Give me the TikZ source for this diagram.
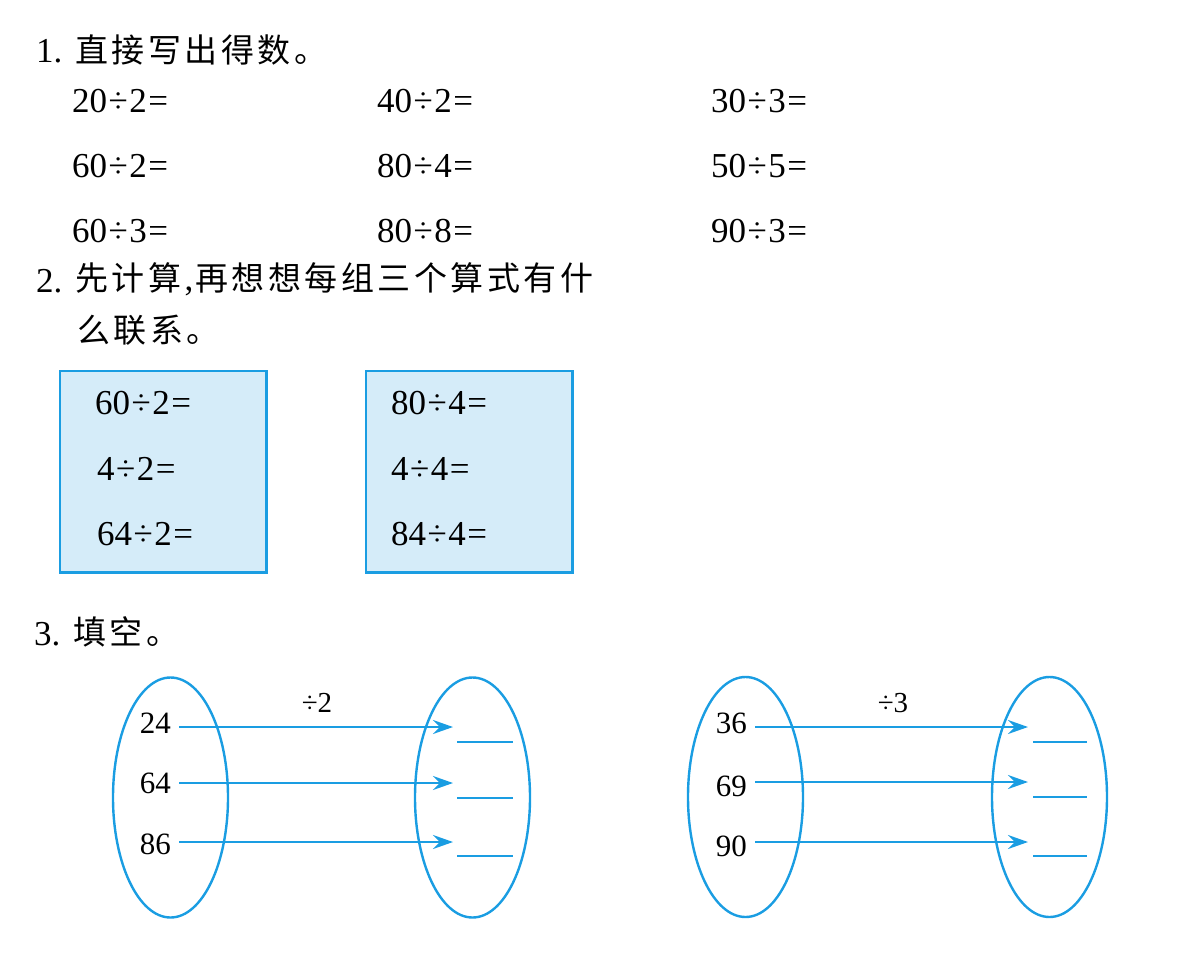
\documentclass[tikz,border=0pt]{standalone}
\usepackage{fontspec}
\setmainfont{Liberation Serif}
\newfontfamily\cjk{Noto Sans CJK SC}
\usetikzlibrary{arrows.meta,shapes.geometric}
\definecolor{lineblue}{HTML}{1A9DE2}
\definecolor{boxfill}{HTML}{D5ECF9}
\makeatletter
\def\cjksp#1{\cjksp@a#1\relax}
\def\cjksp@a#1{\ifx\relax#1\else#1\kern3.5pt\expandafter\cjksp@a\fi}
\makeatother
\newcommand\dv[2]{#1\kern1.5pt÷\kern1.5pt#2\kern1.5pt=}
\begin{document}
\begin{tikzpicture}[x=1pt,y=-1pt,
  num/.style={anchor=base west, inner sep=0pt, font=\fontsize{35}{40}\selectfont},
  cn/.style={anchor=base west, inner sep=0pt, font=\cjk\fontsize{33}{38}\selectfont},
  qbox/.style={draw=lineblue, fill=boxfill, line width=2.4pt, inner sep=0pt,
    minimum width=206.5pt, minimum height=201.5pt},
  oval/.style={draw=lineblue, line width=2.4pt, ellipse, inner sep=0pt,
    minimum width=115pt, minimum height=240pt},
  arr/.style={draw=lineblue, line width=2.4pt, shorten <=8pt,
    -{Stealth[length=20pt,width=14pt,inset=7pt]}},
  blank/.style={draw=lineblue, line width=2.4pt},
  val/.style={anchor=base east, inner sep=0pt, font=\fontsize{31}{36}\selectfont},
  op/.style={anchor=base, inner sep=0pt, font=\fontsize{29}{34}\selectfont}]
\useasboundingbox (0,0) rectangle (1200,959);

% ---- item 1
\node[num] (h1) at (36,62) {1.};
\node[cn] (h1t) at (75,62.5) {\cjksp{直接写出得数。}};
\node[num] (a1) at (72,112) {\dv{20}{2}};
\node[num] (a2) at (377,112) {\dv{40}{2}};
\node[num] (a3) at (711,112) {\dv{30}{3}};
\node[num] (b1) at (72,177) {\dv{60}{2}};
\node[num] (b2) at (377,177) {\dv{80}{4}};
\node[num] (b3) at (711,177) {\dv{50}{5}};
\node[num] (c1) at (72,242) {\dv{60}{3}};
\node[num] (c2) at (377,242) {\dv{80}{8}};
\node[num] (c3) at (711,242) {\dv{90}{3}};

% ---- item 2
\node[num] (h2) at (36,292) {2.};
\node[cn] (h2t) at (75,290) {\cjksp{先计算}{\rmfamily\fontsize{35}{40}\selectfont,}\kern2pt\cjksp{再想想每组三个算式有什}};
\node[cn] (h2u) at (77,342) {\cjksp{么联系。}};

\node[qbox] (box1) at (163.25,471.75) {};
\node[qbox] (box2) at (469.25,471.75) {};
\node[num] (p1) at (95,414) {\dv{60}{2}};
\node[num] (p2) at (97,480) {\dv{4}{2}};
\node[num] (p3) at (97,545) {\dv{64}{2}};
\node[num] (q1) at (391,414) {\dv{80}{4}};
\node[num] (q2) at (391,480) {\dv{4}{4}};
\node[num] (q3) at (391,545) {\dv{84}{4}};

% ---- item 3
\node[num] (h3) at (34,645) {3.};
\node[cn] (h3t) at (73,644) {\cjksp{填空。}};

\node[oval] (e1) at (170.5,797.5) {};
\node[oval] (e2) at (472.5,797.5) {};
\node[oval] (e3) at (745.5,797) {};
\node[oval] (e4) at (1049.5,797) {};

\node[op] (d2) at (317,712) {÷2};
\node[op] (d3) at (893,712) {÷3};

\node[val] (n24) at (171,733) {24};
\node[val] (n64) at (171,793) {64};
\node[val] (n86) at (171,854) {86};
\node[val] (n36) at (747,733) {36};
\node[val] (n69) at (747,796) {69};
\node[val] (n90) at (747,856) {90};

\coordinate (t1) at (453,727);
\coordinate (t2) at (453,783);
\coordinate (t3) at (453,842);
\coordinate (u1) at (1028,727);
\coordinate (u2) at (1028,782);
\coordinate (u3) at (1028,842);

\draw[arr] (n24.east |- t1) -- (t1);
\draw[arr] (n64.east |- t2) -- (t2);
\draw[arr] (n86.east |- t3) -- (t3);
\draw[arr] (n36.east |- u1) -- (u1);
\draw[arr] (n69.east |- u2) -- (u2);
\draw[arr] (n90.east |- u3) -- (u3);

\draw[blank] (457,742) -- (513,742);
\draw[blank] (457,798) -- (513,798);
\draw[blank] (457,856) -- (513,856);
\draw[blank] (1033,742) -- (1087,742);
\draw[blank] (1033,797) -- (1087,797);
\draw[blank] (1033,856) -- (1087,856);
\end{tikzpicture}
\end{document}
